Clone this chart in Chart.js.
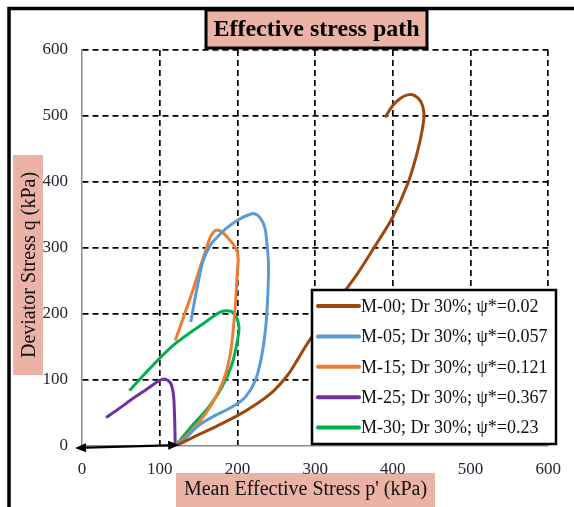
<!DOCTYPE html>
<html>
<head>
<meta charset="utf-8">
<script src="https://cdn.jsdelivr.net/npm/chart.js@4.4.1/dist/chart.umd.min.js"></script>
<style>
  html, body { margin: 0; padding: 0; background: #fff; }
  #wrap { width: 574px; height: 507px; position: relative; }
  canvas { display: block; }
</style>
</head>
<body>
<div id="wrap"><canvas id="c" width="574" height="507"></canvas></div>
<script>
// Stress paths: pairs of [mean effective stress p' (kPa), deviator stress q (kPa)]
const seriesLabels = [
  "M-00; Dr 30%; \u03C8*=0.02",
  "M-05; Dr 30%; \u03C8*=0.057",
  "M-15; Dr 30%; \u03C8*=0.121",
  "M-25; Dr 30%; \u03C8*=0.367",
  "M-30; Dr 30%; \u03C8*=0.23"
];
const seriesColors = ["#9E480E", "#5B9BD5", "#ED7D31", "#7030A0", "#00B050"];

const pathM00 = [[120,0],[141,12],[166,26],[200,46],[225,64],[247,84],[265,108],[278,132],[291,157],[322,209],
  [355,262],[376,301],[400,347],[419,397],[431,443],[438,480],[440,505],[436,522],[428,531],[419,532],
  [410,527],[400,516],[390,498]];
const pathM05 = [[120,0],[129,7],[150,31],[171,46],[193,59],[210,74],[223,99],[231,135],[236,175],[239,226],
  [240,276],[238,306],[235,332],[229,346],[222,352],[214,350],[203,344],[188,332],[176,319],[165,304],
  [156,281],[150,251],[145,221],[140,188]];
const pathM15 = [[120,0],[141,23],[159,49],[173,76],[184,106],[191,141],[195,181],[198,225],[200,265],[201,283],
  [199,297],[193,308],[185,319],[178,326],[173,327],[170,325],[165,316],[159,296],[152,271],[144,241],
  [135,210],[120,160]];
const pathM25 = [[120,0],[119.5,28],[119,49],[118,74],[116,89],[113,97],[108,101],[103,101],[98,98],
  [82,85],[65,71.5],[48,57],[31,43]];
const pathM30 = [[120,0],[142,31],[163,59],[180,89],[193,124],[200,160],[202,180],[198,197],[192,204],
  [185,205],[178,203],[159,188],[120,155],[91,122],[61,84]];
const seriesPaths = [pathM00, pathM05, pathM15, pathM25, pathM30];

// Axis ticks
const xTicks = [0, 100, 200, 300, 400, 500, 600];
const yTicks = [0, 100, 200, 300, 400, 500, 600];

// Double-headed arrow along the p' axis (from, to) in data units
const arrowFrom = [-9, -3];
const arrowTo = [125, 1.5];

const titleText = "Effective stress path";
const xTitle = "Mean Effective Stress p' (kPa)";
const yTitle = "Deviator Stress q (kPa)";

const SERIF = '"Liberation Serif", "Times New Roman", serif';
const PINK = "#EBB3A6";

const decorations = {
  id: "decorations",
  beforeDraw(chart) {
    const ctx = chart.ctx;
    ctx.save();
    ctx.fillStyle = "#fff";
    ctx.fillRect(0, 0, chart.width, chart.height);
    // outer frame (left and top edges)
    ctx.strokeStyle = "#000";
    ctx.lineWidth = 3.5;
    ctx.beginPath();
    ctx.moveTo(9, 507);
    ctx.lineTo(9, 8.5);
    ctx.lineTo(574, 8.5);
    ctx.stroke();
    // axis title boxes
    ctx.fillStyle = PINK;
    ctx.fillRect(13, 155, 30, 220);
    ctx.fillRect(176, 473, 259, 34);
    ctx.fillStyle = "#111";
    ctx.font = "20px " + SERIF;
    ctx.textAlign = "center";
    ctx.textBaseline = "middle";
    ctx.fillText(xTitle, 305.5, 490);
    ctx.translate(29, 265);
    ctx.rotate(-Math.PI / 2);
    ctx.fillText(yTitle, 0, 1);
    ctx.restore();
  },
  afterDatasetsDraw(chart) {
    const ctx = chart.ctx;
    const xs = chart.scales.x, ys = chart.scales.y;
    ctx.save();
    // arrow
    const x1 = xs.getPixelForValue(arrowFrom[0]), y1 = ys.getPixelForValue(arrowFrom[1]);
    const x2 = xs.getPixelForValue(arrowTo[0]), y2 = ys.getPixelForValue(arrowTo[1]);
    const ang = Math.atan2(y2 - y1, x2 - x1);
    const head = 11, half = 4.5;
    ctx.strokeStyle = "#000";
    ctx.fillStyle = "#000";
    ctx.lineWidth = 2.2;
    ctx.beginPath();
    ctx.moveTo(x1 + Math.cos(ang) * head, y1 + Math.sin(ang) * head);
    ctx.lineTo(x2 - Math.cos(ang) * head, y2 - Math.sin(ang) * head);
    ctx.stroke();
    const drawHead = (tx, ty, a) => {
      ctx.beginPath();
      ctx.moveTo(tx, ty);
      ctx.lineTo(tx - Math.cos(a) * head - Math.sin(a) * half, ty - Math.sin(a) * head + Math.cos(a) * half);
      ctx.lineTo(tx - Math.cos(a) * head + Math.sin(a) * half, ty - Math.sin(a) * head - Math.cos(a) * half);
      ctx.closePath();
      ctx.fill();
    };
    drawHead(x2, y2, ang);
    drawHead(x1, y1, ang + Math.PI);

    // legend
    const lx = 312, ly = 290, lw = 244, lh = 154;
    ctx.fillStyle = "#fff";
    ctx.fillRect(lx, ly, lw, lh);
    ctx.lineWidth = 2.5;
    ctx.strokeStyle = "#000";
    ctx.strokeRect(lx, ly, lw, lh);
    ctx.font = "18px " + SERIF;
    ctx.textAlign = "left";
    ctx.textBaseline = "middle";
    chart.data.datasets.forEach((ds, i) => {
      const ry = 306 + i * 30.4;
      ctx.strokeStyle = ds.borderColor;
      ctx.lineWidth = 4;
      ctx.lineCap = "round";
      ctx.beginPath();
      ctx.moveTo(318, ry);
      ctx.lineTo(359, ry);
      ctx.stroke();
      ctx.fillStyle = "#111";
      ctx.fillText(ds.label, 361, ry + 1);
    });

    // chart title box
    ctx.fillStyle = PINK;
    ctx.fillRect(206, 10, 221, 38);
    ctx.lineWidth = 3;
    ctx.strokeStyle = "#000";
    ctx.strokeRect(206, 10, 221, 38);
    ctx.fillStyle = "#000";
    ctx.font = "bold 24px " + SERIF;
    ctx.textAlign = "center";
    ctx.textBaseline = "middle";
    ctx.fillText(titleText, 316.5, 30);
    ctx.restore();
  }
};

const datasets = seriesPaths.map((path, i) => ({
  label: seriesLabels[i],
  data: path.map(([p, q]) => ({ x: p, y: q })),
  borderColor: seriesColors[i],
  backgroundColor: seriesColors[i],
  borderWidth: 3,
  pointRadius: 0,
  showLine: true,
  tension: 0.35,
  fill: false
}));

const gridColor = (c) => (c.tick && c.tick.value === 0 ? "rgba(0,0,0,0)" : "#000");

new Chart(document.getElementById("c"), {
  type: "scatter",
  data: { datasets },
  options: {
    responsive: false,
    devicePixelRatio: 1,
    animation: false,
    layout: { padding: { left: 0, top: 50, right: 22, bottom: 0 } },
    plugins: { legend: { display: false }, title: { display: false }, tooltip: { enabled: false } },
    scales: {
      x: {
        type: "linear",
        min: xTicks[0],
        max: xTicks[xTicks.length - 1],
        afterBuildTicks: (s) => { s.ticks = xTicks.map(v => ({ value: v })); },
        afterFit: (s) => { s.height = 61; },
        ticks: { font: { family: SERIF, size: 17 }, color: "#262633", padding: 13, maxRotation: 0 },
        grid: { color: gridColor, lineWidth: 1.7, drawTicks: false },
        border: { display: true, color: "#8a8a8a", width: 1.5, dash: [6, 4] }
      },
      y: {
        type: "linear",
        min: yTicks[0],
        max: yTicks[yTicks.length - 1],
        afterBuildTicks: (s) => { s.ticks = yTicks.map(v => ({ value: v })); },
        afterFit: (s) => { s.width = 82; },
        ticks: { font: { family: SERIF, size: 17 }, color: "#262633", padding: 14 },
        grid: { color: gridColor, lineWidth: 1.7, drawTicks: false },
        border: { display: true, color: "#8a8a8a", width: 1.5, dash: [6, 4] }
      }
    }
  },
  plugins: [decorations]
});
</script>
</body>
</html>
